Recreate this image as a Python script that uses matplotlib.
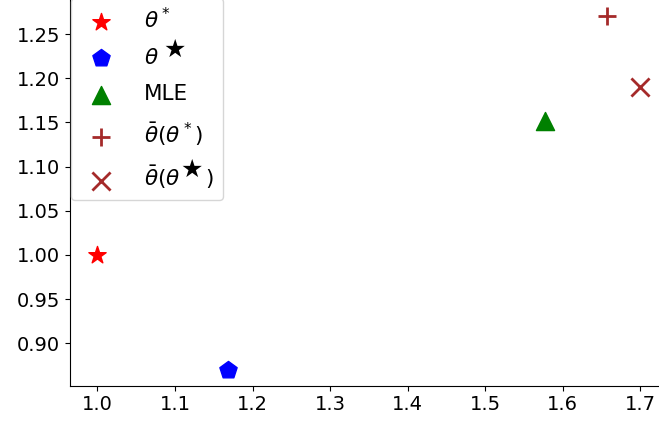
import matplotlib

matplotlib.use("Agg")
import matplotlib.pyplot as plt
from matplotlib.transforms import IdentityTransform

# estimates of each point
labels = [r"$\theta^*$", r"$\theta^{\hspace{1.2}}$", "MLE",
          r"$\bar{\theta}(\theta^*)$", r"$\bar{\theta}(\theta^{\hspace{1.7}})$"]
xs = [1.0, 1.169, 1.578, 1.658, 1.700]
ys = [1.0, 0.870, 1.151, 1.270, 1.190]
markers = ["*", "p", "^", "+", "x"]
colors = ["red", "blue", "green", "brown", "brown"]
# legend rows that carry a big black star after the theta: (prefix, dx, dy)
star_rows = {1: (r"$\theta$", 15, -2), 4: (r"$\bar{\theta}(\theta$", 11, 0)}

fig = plt.figure(figsize=(6.59, 4.25), dpi=100)
ax = fig.add_axes([0.1062, 0.0925, 0.8938, 0.9075])

for x, y, m, c, lab in zip(xs, ys, markers, colors, labels):
    kw = dict(linewidths=2) if m in ("+", "x") else {}
    ax.scatter([x], [y], marker=m, color=c, s=170, label=lab, **kw)

ax.set_xlim(0.9645, 1.7245)
ax.set_ylim(0.852, 1.2885)
ax.set_xticks([1.0, 1.1, 1.2, 1.3, 1.4, 1.5, 1.6, 1.7])
ax.set_yticks([0.90, 0.95, 1.00, 1.05, 1.10, 1.15, 1.20, 1.25])
ax.yaxis.set_major_formatter(matplotlib.ticker.FormatStrFormatter("%.2f"))
ax.tick_params(labelsize=14)
ax.spines["top"].set_visible(False)
ax.spines["right"].set_visible(False)

leg = ax.legend(loc="upper left", bbox_to_anchor=(0.002, 1.005), borderaxespad=0,
                fontsize=15.5, labelspacing=0.75, handletextpad=1.0)

# overlay the big star superscripts on the legend labels
fig.canvas.draw()
renderer = fig.canvas.get_renderer()
for idx, (prefix, dx, dy) in star_rows.items():
    t = leg.get_texts()[idx]
    tr = t.get_transform()
    pre = fig.text(0, 0, prefix, fontsize=15.5, transform=tr, va="baseline")
    th = fig.text(0, 0, r"$\theta$", fontsize=15.5, transform=tr, va="baseline")
    x1 = pre.get_window_extent(renderer).x1
    top = th.get_window_extent(renderer).y1
    pre.remove()
    th.remove()
    fig.text(x1 + dx, top + dy, r"$\bigstar$", fontsize=18, ha="center", va="center",
             transform=IdentityTransform())

fig.savefig("out.png", dpi=100)
